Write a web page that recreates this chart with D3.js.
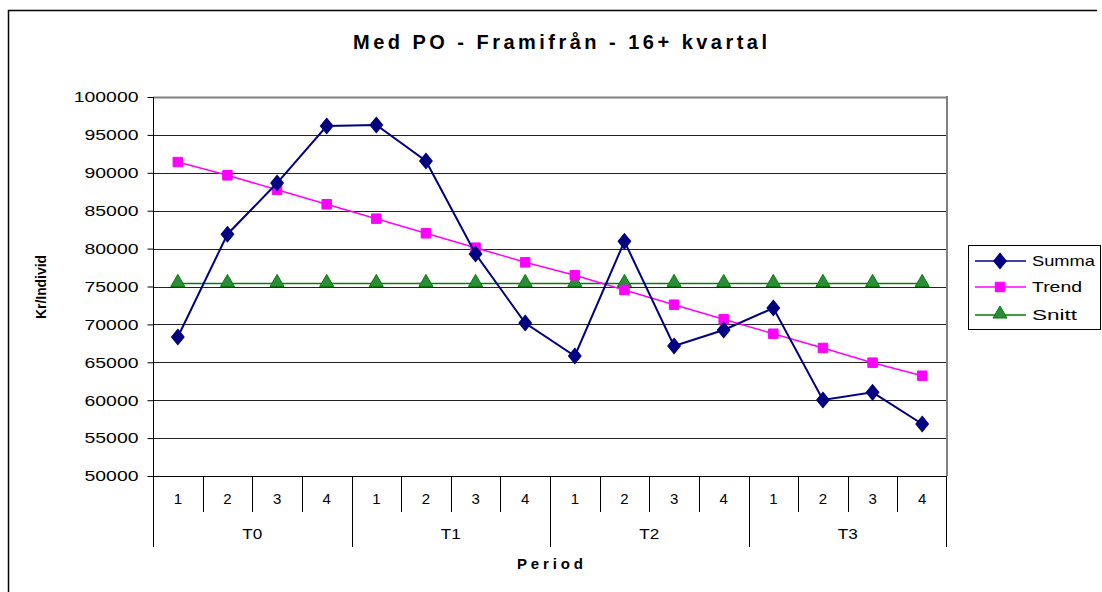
<!DOCTYPE html>
<html>
<head>
<meta charset="utf-8">
<script src="https://cdn.jsdelivr.net/npm/d3@7"></script>
<style>
  html, body { margin: 0; padding: 0; background: #fff; }
  svg { display: block; font-family: "Liberation Sans", Arial, sans-serif; }
</style>
</head>
<body>
<div id="chart"></div>
<script>
// ---- data ----
var quarters = ["1", "2", "3", "4", "1", "2", "3", "4", "1", "2", "3", "4", "1", "2", "3", "4"];
var years = ["T0", "T1", "T2", "T3"];
var summa = [68340, 81900, 88650, 96170, 96300, 91560, 79290, 70180,
             65830, 80960, 67150, 69260, 72160, 60030, 61040, 56860];
var trend = [91420, 89670, 87760, 85850, 83950, 82020, 80120, 78190,
             76480, 74540, 72600, 70670, 68770, 66890, 64950, 63230];
var snitt = [75400, 75400, 75400, 75400, 75400, 75400, 75400, 75400,
             75400, 75400, 75400, 75400, 75400, 75400, 75400, 75400];
var yTicks = [50000, 55000, 60000, 65000, 70000, 75000, 80000, 85000, 90000, 95000, 100000];

var W = 1102, H = 592;
var L = 153, R = 947, T = 97, B = 476;

var svg = d3.select("#chart").append("svg").attr("width", W).attr("height", H);

// outer chart frame
svg.append("path").attr("d", "M8.5," + (H + 2) + "V10.5H1097")
  .attr("fill", "none").attr("stroke", "#000").attr("stroke-width", 1.5);

var idx = d3.range(summa.length);
var x = d3.scaleBand().domain(idx).range([L, R]).padding(0);
var cx = function (i) { return x(i) + x.bandwidth() / 2; };
var y = d3.scaleLinear().domain([50000, 100000]).range([B, T]);

// title
svg.append("text").attr("x", 560).attr("y", 49).attr("text-anchor", "middle")
  .attr("font-size", 20).attr("font-weight", "bold")
  .attr("textLength", 414).attr("lengthAdjust", "spacing")
  .text("Med PO - Framifrån - 16+ kvartal");

// gridlines
svg.append("g").selectAll("line").data(yTicks.slice(1)).join("line")
  .attr("x1", L).attr("x2", R)
  .attr("y1", function (d) { return Math.round(y(d)) + 0.5; })
  .attr("y2", function (d) { return Math.round(y(d)) + 0.5; })
  .attr("stroke", function (d) { return d === 100000 ? "#808080" : "#222"; })
  .attr("stroke-width", function (d) { return d === 100000 ? 2 : 1; });

// plot area right border
svg.append("line").attr("x1", R).attr("x2", R).attr("y1", T - 1).attr("y2", B)
  .attr("stroke", "#808080").attr("stroke-width", 2);

// y axis
var yAxis = d3.axisLeft(y).tickValues(yTicks).tickSize(6).tickPadding(9)
  .tickFormat(d3.format("d"));
var gy = svg.append("g").attr("transform", "translate(" + (L + 0.5) + ",0)").call(yAxis);
gy.select(".domain").remove();
gy.selectAll(".tick line").attr("stroke", "#000");
gy.selectAll(".tick text").attr("font-size", 15).attr("fill", "#000")
  .attr("font-family", "Liberation Sans, Arial, sans-serif")
  .attr("textLength", function (d) { return String(d).length * 10.8; })
  .attr("lengthAdjust", "spacingAndGlyphs");
svg.append("line").attr("x1", L + 0.5).attr("x2", L + 0.5).attr("y1", T).attr("y2", 547)
  .attr("stroke", "#000");

// x axis: baseline, quarter ticks, year separators
svg.append("line").attr("x1", L - 5).attr("x2", R).attr("y1", B + 0.5).attr("y2", B + 0.5)
  .attr("stroke", "#000");
var gx = svg.append("g");
gx.selectAll("line.q").data(idx.slice(1)).join("line").attr("class", "q")
  .attr("x1", function (i) { return Math.round(x(i)) + 0.5; })
  .attr("x2", function (i) { return Math.round(x(i)) + 0.5; })
  .attr("y1", B).attr("y2", function (i) { return i % 4 === 0 ? 547 : 512; })
  .attr("stroke", "#000");
gx.append("line").attr("x1", R - 0.5).attr("x2", R - 0.5).attr("y1", B).attr("y2", 547)
  .attr("stroke", "#000");
gx.selectAll("text.q").data(idx).join("text").attr("class", "q")
  .attr("x", cx).attr("y", 504).attr("text-anchor", "middle").attr("font-size", 15)
  .text(function (i) { return quarters[i]; });
gx.selectAll("text.t").data(years).join("text").attr("class", "t")
  .attr("x", function (d, k) { return (x(k * 4) + x(k * 4 + 3) + x.bandwidth()) / 2; })
  .attr("y", 539).attr("text-anchor", "middle").attr("font-size", 15)
  .attr("textLength", 20).attr("lengthAdjust", "spacingAndGlyphs")
  .text(function (d) { return d; });

// axis titles
svg.append("text").attr("x", 550).attr("y", 569).attr("text-anchor", "middle")
  .attr("font-size", 15).attr("font-weight", "bold")
  .attr("textLength", 66).attr("lengthAdjust", "spacing").text("Period");
svg.append("text").attr("transform", "translate(46,287) rotate(-90)")
  .attr("text-anchor", "middle").attr("font-size", 14).attr("font-weight", "bold")
  .attr("textLength", 64).attr("lengthAdjust", "spacingAndGlyphs").text("Kr/Individ");

// series
var series = [
  { name: "Summa", values: summa, color: "#000080", fill: "#000080", shape: d3.symbolDiamond, size: 95 },
  { name: "Trend", values: trend, color: "#FF00FF", fill: "#FF00FF", shape: d3.symbolSquare, size: 90 },
  { name: "Snitt", values: snitt, color: "#008000", fill: "#2E8B3E", shape: d3.symbolTriangle, size: 85 }
];
var line = d3.line().x(function (d, i) { return cx(i); }).y(function (d) { return y(d); });

series.slice().reverse().forEach(function (s) {
  var g = svg.append("g");
  g.append("path").attr("d", line(s.values)).attr("fill", "none")
    .attr("stroke", s.color).attr("stroke-width", s.name === "Summa" ? 2 : 1.5);
  g.selectAll("path.m").data(s.values).join("path").attr("class", "m")
    .attr("d", d3.symbol().type(s.shape).size(s.size))
    .attr("transform", function (d, i) {
      var dy = s.name === "Snitt" ? -1 : 0;
      return "translate(" + cx(i) + "," + (y(d) + dy) + ")" + (s.name === "Summa" ? " scale(1.2,0.85)" : "");
    })
    .attr("fill", s.fill).attr("stroke", s.color).attr("stroke-width", 1);
});

// legend
var lg = svg.append("g");
lg.append("rect").attr("x", 968.5).attr("y", 245.5).attr("width", 132).attr("height", 84)
  .attr("fill", "#fff").attr("stroke", "#000");
series.forEach(function (s, k) {
  var ly = [261, 287, 315][k];
  lg.append("line").attr("x1", 975).attr("x2", 1026).attr("y1", ly).attr("y2", ly)
    .attr("stroke", s.color).attr("stroke-width", 1.5);
  lg.append("path").attr("d", d3.symbol().type(s.shape).size(s.size)())
    .attr("transform", "translate(1000," + (s.name === "Snitt" ? ly - 1 : ly) + ")" + (s.name === "Summa" ? " scale(1.2,0.85)" : ""))
    .attr("fill", s.fill).attr("stroke", s.color);
  lg.append("text").attr("x", 1032).attr("y", ly + 5).attr("font-size", 15)
    .attr("textLength", [63, 50, 45][k]).attr("lengthAdjust", "spacingAndGlyphs")
    .text(s.name);
});
</script>
</body>
</html>
